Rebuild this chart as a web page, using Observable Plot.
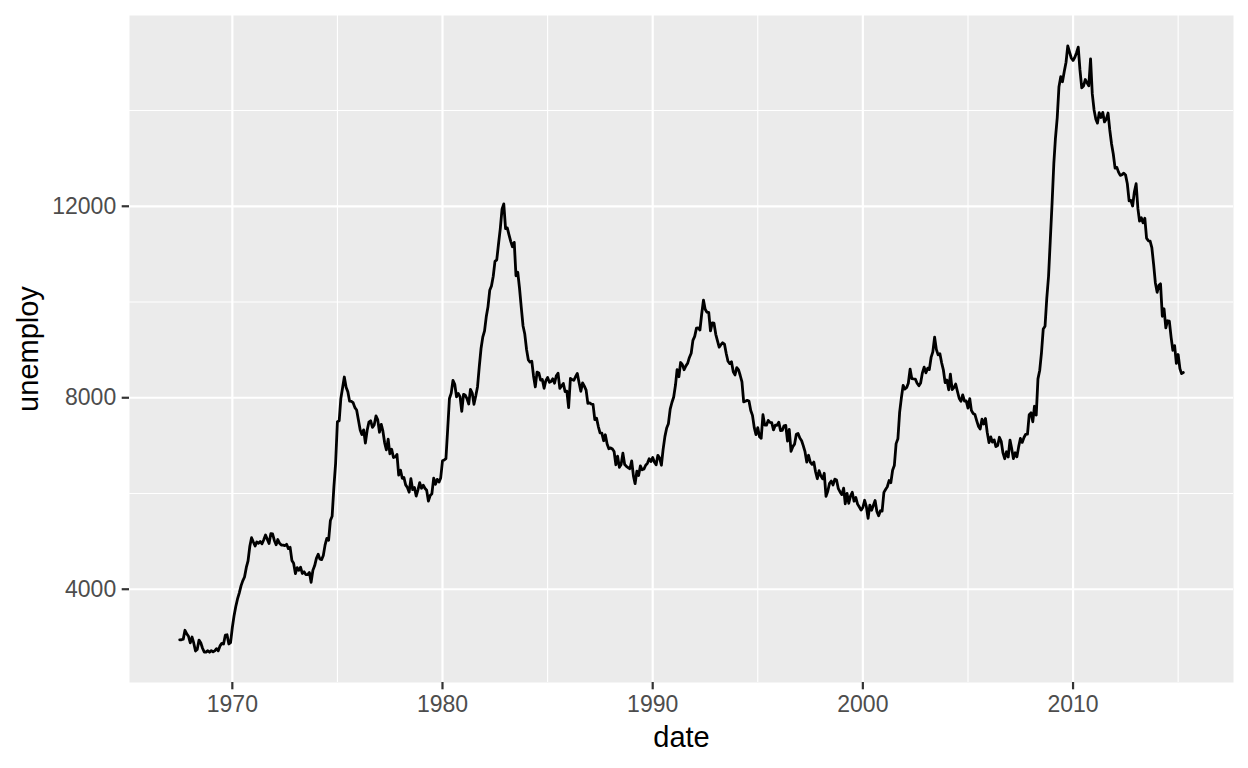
<!DOCTYPE html>
<html>
<head>
<meta charset="utf-8">
<script src="https://cdn.jsdelivr.net/npm/d3@7"></script>
<script src="https://cdn.jsdelivr.net/npm/@observablehq/plot@0.6"></script>
<style>
  body { margin: 0; background: white; }
</style>
</head>
<body>
<div id="chart"></div>
<script>
// monthly unemployment (thousands), July 1967 to April 2015
const firstMonth = "1967-07-01"
const unemploy = [
  2944, 2945, 2958, 3143, 3066, 3018,
  2878, 3001, 2877, 2709, 2740, 2938, 2883, 2768, 2686, 2689, 2715, 2685,
  2718, 2692, 2712, 2758, 2713, 2816, 2868, 2856, 3040, 3049, 2856, 2884,
  3201, 3453, 3635, 3797, 3919, 4071, 4175, 4256, 4456, 4591, 4898, 5076,
  4986, 4903, 4987, 4959, 4996, 4949, 5035, 5134, 5042, 4954, 5161, 5154,
  5019, 4928, 5038, 4959, 4922, 4923, 4913, 4939, 4849, 4875, 4602, 4543,
  4326, 4452, 4394, 4459, 4329, 4363, 4305, 4305, 4350, 4144, 4396, 4489,
  4644, 4731, 4634, 4618, 4705, 4927, 5063, 5022, 5437, 5523, 6140, 6636,
  7501, 7520, 7978, 8210, 8433, 8220, 8127, 7928, 7923, 7897, 7794, 7744,
  7534, 7326, 7230, 7330, 7053, 7322, 7490, 7518, 7380, 7430, 7620, 7545,
  7280, 7443, 7307, 7059, 6911, 7134, 6829, 6925, 6751, 6763, 6815, 6386,
  6489, 6318, 6337, 6180, 6127, 6028, 6309, 6080, 6125, 5947, 6077, 6228,
  6109, 6173, 6109, 6069, 5840, 5959, 5996, 6320, 6190, 6296, 6238, 6325,
  6683, 6702, 6729, 7358, 7984, 8098, 8363, 8281, 8021, 8088, 8023, 7718,
  8071, 8051, 7982, 7869, 8174, 8098, 7863, 8036, 8230, 8646, 9029, 9267,
  9397, 9705, 9895, 10244, 10335, 10538, 10849, 10881, 11217, 11529, 11938, 12051,
  11534, 11545, 11408, 11268, 11154, 11246, 10548, 10623, 10282, 9887, 9499, 9331,
  9008, 8791, 8746, 8762, 8456, 8226, 8537, 8519, 8367, 8381, 8198, 8358,
  8423, 8321, 8339, 8395, 8302, 8460, 8513, 8196, 8248, 8298, 8128, 8138,
  7795, 8402, 8383, 8364, 8439, 8508, 8319, 8135, 8310, 8243, 8159, 7883,
  7892, 7865, 7862, 7542, 7574, 7398, 7268, 7261, 7102, 7227, 7035, 6936,
  6953, 6929, 6876, 6601, 6779, 6546, 6605, 6843, 6604, 6568, 6537, 6518,
  6682, 6359, 6205, 6468, 6375, 6577, 6495, 6511, 6590, 6630, 6725, 6667,
  6752, 6651, 6598, 6797, 6742, 6590, 6922, 7188, 7368, 7459, 7764, 7901,
  8015, 8265, 8586, 8439, 8736, 8692, 8586, 8666, 8722, 8842, 8931, 9198,
  9283, 9454, 9460, 9415, 9744, 10040, 9850, 9787, 9781, 9398, 9565, 9557,
  9325, 9183, 9056, 9110, 9149, 9121, 8930, 8763, 8714, 8750, 8542, 8477,
  8630, 8583, 8470, 8331, 7915, 7927, 7946, 7933, 7734, 7632, 7375, 7230,
  7375, 7187, 7153, 7645, 7430, 7427, 7527, 7484, 7478, 7328, 7426, 7423,
  7491, 7313, 7318, 7415, 7423, 7095, 7337, 6882, 6979, 7031, 7236, 7253,
  7158, 7102, 7000, 6873, 6655, 6799, 6655, 6608, 6656, 6454, 6308, 6476,
  6368, 6306, 6422, 5941, 6047, 6212, 6259, 6179, 6300, 6280, 6100, 6032,
  5976, 6111, 5783, 6004, 5796, 5951, 6025, 5838, 5915, 5778, 5716, 5653,
  5708, 5858, 5733, 5481, 5758, 5651, 5747, 5853, 5625, 5534, 5639, 5634,
  6023, 6089, 6141, 6271, 6226, 6484, 6583, 7042, 7142, 7694, 8003, 8258,
  8182, 8215, 8304, 8599, 8399, 8393, 8390, 8304, 8251, 8307, 8520, 8640,
  8520, 8618, 8588, 8842, 8957, 9266, 9011, 8896, 8921, 8732, 8576, 8317,
  8370, 8167, 8491, 8170, 8212, 8286, 8136, 7990, 7927, 8061, 7932, 7934,
  7784, 7980, 7737, 7672, 7651, 7524, 7406, 7345, 7553, 7453, 7566, 7279,
  7064, 7184, 7072, 7120, 6980, 7001, 7175, 7091, 6847, 6727, 6872, 6762,
  7116, 6927, 6731, 6850, 6766, 6979, 7149, 7067, 7170, 7237, 7240, 7645,
  7685, 7497, 7822, 7637, 8395, 8575, 8937, 9438, 9494, 10074, 10538, 11286,
  12058, 12898, 13426, 13853, 14499, 14707, 14601, 14814, 15009, 15352, 15219, 15098,
  15046, 15113, 15202, 15325, 14849, 14474, 14512, 14648, 14579, 14516, 15081, 14348,
  14013, 13820, 13737, 13957, 13855, 13962, 13763, 13818, 13948, 13594, 13302, 13093,
  12797, 12813, 12713, 12646, 12660, 12692, 12656, 12471, 12115, 12124, 12005, 12298,
  12471, 11950, 11689, 11760, 11654, 11751, 11335, 11279, 11270, 11136, 10787, 10404,
  10202, 10349, 10380, 9702, 9859, 9460, 9608, 9599, 9262, 8990, 9090, 8717,
  8903, 8610, 8504, 8526
]
const xMajorYears = [1970, 1980, 1990, 2000, 2010]
const xMinorYears = [1975, 1985, 1995, 2005, 2015]
const yMajor = [4000, 8000, 12000]
const yMinor = [6000, 10000, 14000]

const start = new Date(firstMonth)
const data = unemploy.map((v, i) => ({date: d3.utcMonth.offset(start, i), unemploy: v}))
const yr = y => new Date(Date.UTC(y, 0, 1))

// ggplot style 5% padding
const pad = ([a, b]) => [a - (b - a) * 0.05, b + (b - a) * 0.05]
const xExt = pad(d3.extent(data, d => +d.date)).map(t => new Date(t))
const yExt = pad(d3.extent(data, d => d.unemploy))

const font = "'Liberation Sans', Arial, sans-serif"

let chart = Plot.plot({
  width: 1248,
  height: 768,
  marginLeft: 129,
  marginRight: 15,
  marginTop: 15,
  marginBottom: 86,
  style: {background: "white", fontFamily: font},
  x: {type: "utc", domain: xExt},
  y: {domain: yExt},
  marks: [
    Plot.frame({fill: "#EBEBEB", stroke: null}),
    Plot.ruleY(yMinor, {stroke: "white", strokeWidth: 1.1}),
    Plot.ruleX(xMinorYears.map(yr), {stroke: "white", strokeWidth: 1.1}),
    Plot.ruleY(yMajor, {stroke: "white", strokeWidth: 2.2}),
    Plot.ruleX(xMajorYears.map(yr), {stroke: "white", strokeWidth: 2.2}),
    Plot.line(data, {x: "date", y: "unemploy", stroke: "black", strokeWidth: 2.8}),
    Plot.axisX({
      ticks: xMajorYears.map(yr),
      tickFormat: d3.utcFormat("%Y"),
      tickSize: 7.3,
      tickPadding: 6,
      fontSize: 23,
      fill: "#4D4D4D",
      stroke: "#333333",
      strokeWidth: 2.2,
      label: null
    }),
    Plot.axisY({
      ticks: yMajor,
      tickFormat: d3.format("d"),
      tickSize: 7.3,
      tickPadding: 6,
      fontSize: 23,
      fill: "#4D4D4D",
      stroke: "#333333",
      strokeWidth: 2.2,
      label: null
    }),
    Plot.text(["date"], {text: d => d, frameAnchor: "bottom", dy: 64, lineAnchor: "bottom", fontSize: 29, fill: "black"}),
    Plot.text(["unemploy"], {text: d => d, frameAnchor: "left", textAnchor: "middle", dx: -92, rotate: -90, lineAnchor: "bottom", fontSize: 29, fill: "black"})
  ]
})
d3.select('#chart').append(() => chart)
</script>
</body>
</html>
